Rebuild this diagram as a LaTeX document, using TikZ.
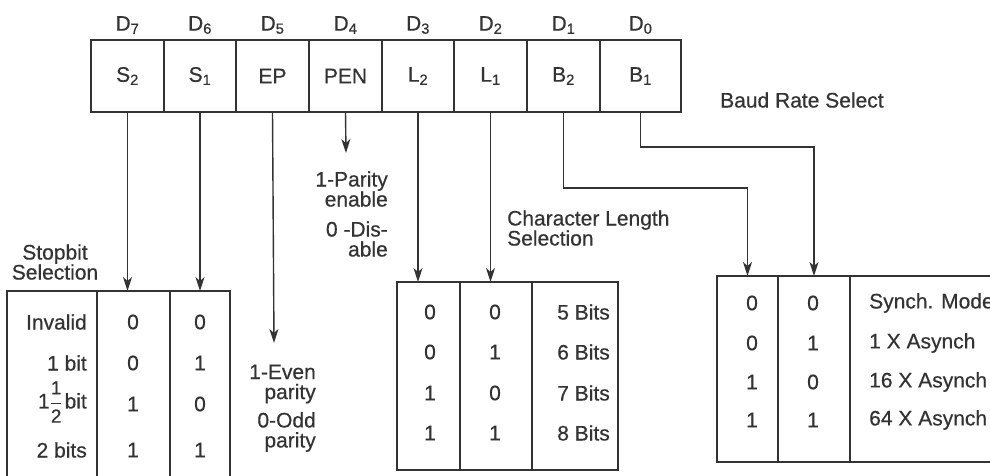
\documentclass[tikz,border=0pt]{standalone}
\usepackage{fontspec}
\setmainfont{Liberation Sans}[FakeBold=0.5]
\usetikzlibrary{arrows.meta,calc}
\definecolor{ink}{HTML}{333333}
\begin{document}
\begin{tikzpicture}[x=1pt,y=-1pt,
  font=\fontsize{21}{21}\selectfont,
  cell/.style={draw=ink, line width=1.4pt, minimum height=72pt, inner sep=0pt, outer sep=0pt, text=ink},
  col/.style={draw=ink, line width=1.4pt, inner sep=0pt, outer sep=0pt},
  arr/.style={draw=ink, line width=1.4pt, -{Stealth[length=14pt,width=9pt,inset=4pt]}},
  lbl/.style={text=ink, inner sep=0pt},
  two/.style={text=ink, inner sep=0pt, font=\fontsize{21}{20}\selectfont}]
\useasboundingbox (0,0) rectangle (990,475);
\clip (0,0) rectangle (990,475);
\fill[white] (0,0) rectangle (990,475);

% register
\node[cell, minimum width=73pt] (s2)  at (127.5,76) {S\textsubscript{2}};
\node[cell, minimum width=72pt] (s1)  at (200,76)   {S\textsubscript{1}};
\node[cell, minimum width=73pt] (ep)  at (272.5,76) {EP};
\node[cell, minimum width=73pt] (pen) at (345.5,76) {PEN};
\node[cell, minimum width=72pt] (l2)  at (418,76)   {L\textsubscript{2}};
\node[cell, minimum width=73pt] (l1)  at (490.5,76) {L\textsubscript{1}};
\node[cell, minimum width=73pt] (b2)  at (563.5,76) {B\textsubscript{2}};
\node[cell, minimum width=81pt] (b1)  at (640.5,76) {B\textsubscript{1}};

\foreach \c/\d in {s2/7,s1/6,ep/5,pen/4,l2/3,l1/2,b2/1,b1/0}
  \node[lbl] (d\d) at ([yshift=15pt]\c.north) {D\textsubscript{\d}};

% stop bit table
\node[col, minimum width=90pt, minimum height=194pt] (stA) at (52,388) {};
\node[col, minimum width=73pt, minimum height=194pt] (stB) at (133.5,388) {};
\node[col, minimum width=60pt, minimum height=194pt] (stC) at (200,388) {};
\node[two, align=center] (stoplbl) at (55,262) {Stopbit\\Selection};

\node[lbl, anchor=east] (st1) at (87,322) {Invalid};
\node[lbl, anchor=east] (st2) at (87,363) {1 bit};
\node[lbl, anchor=east] (st3) at (87,402) {1$\displaystyle\frac{\mbox{\fontsize{19}{19}\selectfont 1}}{\mbox{\fontsize{19}{19}\selectfont 2}}$\hspace{2pt}bit};
\node[lbl, anchor=east] (st4) at (87,450) {2 bits};
\foreach \y/\a/\b [count=\i] in {322/0/0,363/0/1,404/1/0,450/1/1}{
  \node[lbl] (sa\i) at (133,\y) {\a};
  \node[lbl] (sb\i) at (200,\y) {\b};
}

% parity texts
\coordinate (eptip) at (274,343);
\coordinate (pentip) at (346,153);
\node[two, align=right, anchor=east] (ev) at (316,384) {1-Even\\parity};
\node[two, align=right, anchor=east] (od) at (316,432) {0-Odd\\parity};
\node[two, align=right, anchor=east] (pe1) at (388,189) {1-Parity\\enable};
\node[two, align=right, anchor=east] (pe2) at (388,239) {0 -Dis-\\able};

% character length table
\node[col, minimum width=63pt, minimum height=188pt] (mA) at (428.5,376) {};
\node[col, minimum width=72pt, minimum height=188pt] (mB) at (496,376) {};
\node[col, minimum width=86pt, minimum height=188pt] (mC) at (575,376) {};
\node[two, align=left, anchor=west] (chlbl) at (507,228) {Character Length\\Selection};
\foreach \y/\a/\b/\t [count=\i] in {312/0/0/5,352/0/1/6,393/1/0/7,433/1/1/8}{
  \node[lbl] (ma\i) at (430,\y) {\a};
  \node[lbl] (mb\i) at (495,\y) {\b};
  \node[lbl, anchor=east] (mc\i) at (610,\y) {\t{} Bits};
}

% baud rate table
\node[col, minimum width=61pt, minimum height=186pt] (rA) at (747.5,369) {};
\node[col, minimum width=72pt, minimum height=186pt] (rB) at (814,369) {};
\node[col, minimum width=160pt, minimum height=186pt] (rC) at (930,369) {};
\node[lbl, anchor=west] (baud) at (720,100) {Baud Rate Select};
\foreach \y/\a/\b/\t [count=\i] in {303/0/0/Synch. Mode,343/0/1/1 X Asynch,382/1/0/16 X Asynch,420/1/1/64 X Asynch}{
  \node[lbl] (ra\i) at (752,\y) {\a};
  \node[lbl] (rb\i) at (813,\y) {\b};
  \node[lbl, anchor=west] (rc\i) at (869,\y) {\t};
}

% connectors
\draw[arr] (s2.south) -- (s2.south |- stB.north);
\draw[arr] (s1.south) -- (s1.south |- stC.north);
\draw[arr] (ep.south) -- (eptip);
\draw[arr] (pen.south) -- (pentip);
\draw[arr] (l2.south) -- (l2.south |- mA.north);
\draw[arr] (l1.south) -- (l1.south |- mB.north);
\draw[arr] (b2.south) -- (b2.south |- 0,188) -| (rA.north);
\draw[arr] (b1.south) -- (b1.south |- 0,147) -| (rB.north);
\end{tikzpicture}
\end{document}
